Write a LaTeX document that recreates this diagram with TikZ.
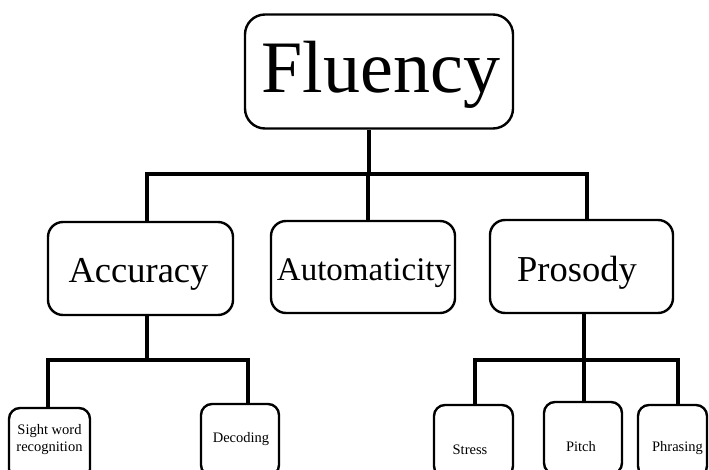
\documentclass[tikz,border=0pt]{standalone}
\usepackage{fontspec}
\setmainfont{Liberation Serif}
\begin{document}
\begin{tikzpicture}[x=1pt,y=-1pt,
  box/.style={draw=black,line width=2.4pt,inner sep=0pt,rectangle,fill=white},
  bigbox/.style={box,rounded corners=20pt,minimum width=268pt,minimum height=114pt},
  midbox/.style={box,rounded corners=15pt},
  smallbox/.style={box,rounded corners=11pt,minimum height=72pt},
  conn/.style={draw=black,line width=4.5pt,line join=miter},
  txt/.style={inner sep=0pt,anchor=base,font=\fontsize{36.5}{40}\selectfont},
  stxt/.style={inner sep=0pt,anchor=base,font=\fontsize{14.5}{17}\selectfont}]
\useasboundingbox (0,0) rectangle (709,470);
\clip (0,0) rectangle (709,470);
\fill[white] (0,0) rectangle (709,470);
% boxes
\node[bigbox] (flu) at (379,71.5) {};
\node[midbox,minimum width=185pt,minimum height=93pt] (acc) at (140.5,268.5) {};
\node[midbox,minimum width=184pt,minimum height=92pt] (aut) at (363,267) {};
\node[midbox,minimum width=183pt,minimum height=93pt] (pro) at (581.5,266.5) {};
\node[smallbox,minimum width=81pt] (sw) at (49.5,444) {};
\node[smallbox,minimum width=78pt] (dec) at (240,440) {};
\node[smallbox,minimum width=79pt] (str) at (473.5,441) {};
\node[smallbox,minimum width=78pt] (pit) at (583,438) {};
\node[smallbox,minimum width=69pt] (phr) at (672.5,441) {};
% texts
\node[txt,font=\fontsize{74}{80}\selectfont] (tflu) at (381,93) {Fluency};
\node[txt] (tacc) at (138.5,282) {Accuracy};
\node[txt,font=\fontsize{33}{38}\selectfont] (taut) at (364,280) {Automaticity};
\node[txt] (tpro) at (577,281) {Prosody};
\node[stxt,align=center] (tsw) at (49.5,451) {Sight word\\recognition};
\node[stxt] (tdec) at (241,442) {Decoding};
\node[stxt] (tstr) at (470,454) {Stress};
\node[stxt] (tpit) at (581,451) {Pitch};
\node[stxt] (tphr) at (677.5,451) {Phrasing};
% junctions
\coordinate (j0) at (369,174);
\coordinate (jA) at (147,174);
\coordinate (jB) at (368,174);
\coordinate (jC) at (587,174);
\coordinate (kA) at (147,360);
\coordinate (kA1) at (48,360);
\coordinate (kA2) at (248,360);
\coordinate (kP) at (584,360);
\coordinate (kP1) at (475,360);
\coordinate (kP3) at (678,360);
% connectors
\draw[conn] (j0 |- flu.south) -- (j0);
\draw[conn] (jA |- acc.north) -- (jA) -- (jC) -- (jC |- pro.north);
\draw[conn] (jB) -- (jB |- aut.north);
\draw[conn] (kA |- acc.south) -- (kA);
\draw[conn] (kA1 |- sw.north) -- (kA1) -- (kA2) -- (kA2 |- dec.north);
\draw[conn] (kP |- pro.south) -- (kP |- pit.north);
\draw[conn] (kP1 |- str.north) -- (kP1) -- (kP3) -- (kP3 |- phr.north);
\end{tikzpicture}
\end{document}
